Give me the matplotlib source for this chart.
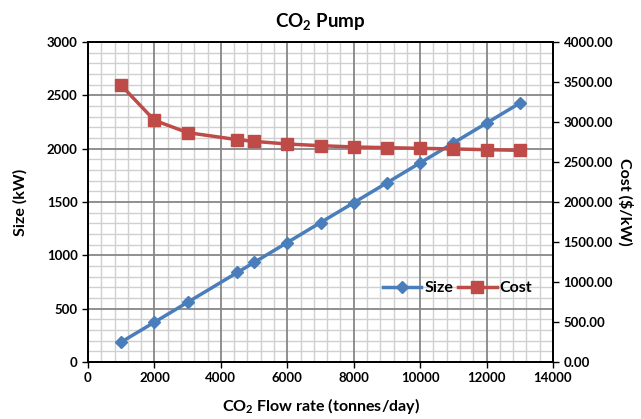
import matplotlib
matplotlib.use("Agg")
import matplotlib.pyplot as plt
from matplotlib.ticker import MultipleLocator, FormatStrFormatter

plt.rcParams['font.family'] = ['Lato', 'DejaVu Sans']
plt.rcParams['font.weight'] = 'bold'
plt.rcParams['mathtext.fontset'] = 'custom'
plt.rcParams['mathtext.rm'] = 'Lato:bold'
plt.rcParams['mathtext.it'] = 'Lato:bold'
plt.rcParams['mathtext.bf'] = 'Lato:bold'

# data
flow = [1000, 2000, 3000, 4500, 5000, 6000, 7000, 8000, 9000, 10000, 11000, 12000, 13000]
size_kw = [187, 373, 560, 840, 933, 1120, 1307, 1493, 1680, 1867, 2053, 2240, 2427]
cost = [3458, 3021, 2867, 2779, 2758, 2725, 2704, 2688, 2679, 2671, 2663, 2654, 2646]

blue = '#4A7EBB'
red = '#BE4B48'

fig = plt.figure(figsize=(6.41, 4.19), dpi=100)
pos = [88 / 641, 57 / 419, 465 / 641, 320 / 419]

# minor grid on its own axes underneath so it never covers the major lines
bg = fig.add_axes(pos)
bg.set_xlim(0, 14000)
bg.set_ylim(0, 3000)
bg.xaxis.set_minor_locator(MultipleLocator(400))
bg.yaxis.set_minor_locator(MultipleLocator(100))
bg.grid(which='minor', color='#D0D0D0', lw=1.0)
bg.tick_params(which='both', length=0, labelbottom=False, labelleft=False)
for s in bg.spines.values():
    s.set_visible(False)

ax = fig.add_axes(pos)
ax.patch.set_alpha(0)
ax2 = ax.twinx()

ax.set_xlim(0, 14000)
ax.set_ylim(0, 3000)
ax2.set_ylim(0, 4000)

ax.xaxis.set_major_locator(MultipleLocator(2000))
ax.yaxis.set_major_locator(MultipleLocator(500))
ax2.yaxis.set_major_locator(MultipleLocator(500))
ax2.yaxis.set_major_formatter(FormatStrFormatter('%.2f'))

ax.grid(which='major', color='#878787', lw=1.3)
ax.set_axisbelow(True)
ax.tick_params(which='major', length=4, labelsize=9.5, width=1)
ax2.tick_params(length=4, labelsize=9.5, width=1)
for a in (ax, ax2):
    for s in a.spines.values():
        s.set_linewidth(1.3)

l1, = ax.plot(flow, size_kw, color=blue, lw=2.5, marker='D', ms=6.5, label='Size')
l2, = ax2.plot(flow, cost, color=red, lw=2.5, marker='s', ms=8, label='Cost')

ax.set_xlabel('CO$_2$ Flow rate (tonnes/day)', fontsize=11.5, fontweight='bold', labelpad=8)
ax.set_ylabel('Size (kW)', fontsize=11.5, fontweight='bold', labelpad=14)
ax2.set_ylabel('Cost ($/kW)', fontsize=11.5, fontweight='bold', rotation=270, labelpad=14)
ax.set_title('CO$_2$ Pump', fontsize=13.5, fontweight='bold', pad=11)

ax2.legend([l1, l2], ['Size', 'Cost'], loc='center', bbox_to_anchor=(0.795, 0.23),
           ncol=2, frameon=False, fontsize=11.5, handlelength=2.4, columnspacing=0.3,
           handletextpad=0.2)

fig.savefig('out.png', dpi=100)
